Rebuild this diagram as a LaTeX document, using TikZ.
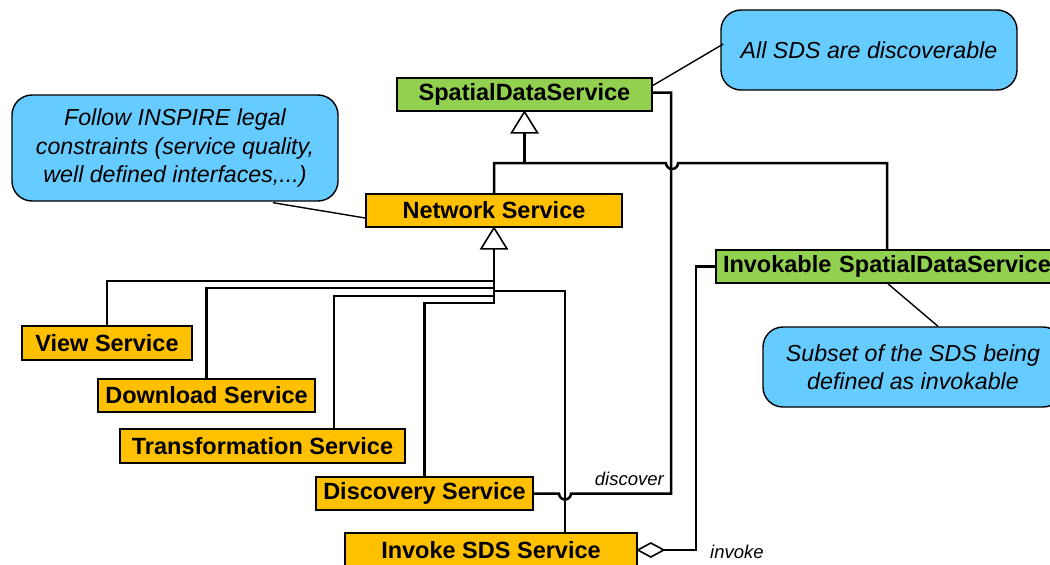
\documentclass[tikz,border=0pt]{standalone}
\usepackage{fontspec}
\setmainfont{Liberation Sans}
\usetikzlibrary{calc}
\definecolor{cblue}{HTML}{66CCFF}
\definecolor{cgreen}{HTML}{92D050}
\definecolor{corange}{HTML}{FFC000}
\begin{document}
\begin{tikzpicture}[x=1pt,y=-1pt,
  cls/.style={draw=black,line width=1.6pt,inner sep=0pt,font=\fontsize{23.5}{27}\selectfont\bfseries},
  grn/.style={cls,fill=cgreen},
  org/.style={cls,fill=corange},
  note/.style={draw=black,line width=1.4pt,fill=cblue,rounded corners=20pt,inner sep=0pt,align=center,font=\fontsize{23.2}{28.5}\selectfont\itshape},
  conn/.style={line width=2.5pt},
  nline/.style={line width=1.4pt},
  tri/.style={line width=1.6pt,fill=white},
  lbl/.style={font=\fontsize{18.5}{22}\selectfont\itshape,inner sep=0pt}
]
\useasboundingbox (0,0) rectangle (1050,565);

% classes
\node[grn,minimum width=255pt,minimum height=33pt] (sds) at (524.5,94.5) {SpatialDataService};
\node[org,minimum width=256pt,minimum height=33pt] (net) at (494,210.5) {Network Service};
\node[org,minimum width=170pt,minimum height=34pt] (view) at (107,343) {View Service};
\node[org,minimum width=217pt,minimum height=33pt] (down) at (206.5,395.5) {Download Service};
\node[org,minimum width=285pt,minimum height=34pt] (transf) at (262.5,446) {Transformation Service};
\node[org,minimum width=217pt,minimum height=33pt] (disc) at (424.5,493.5) {Discovery Service};
\node[org,minimum width=292pt,minimum height=34pt] (inv) at (491,550) {Invoke SDS Service};
\node[grn,minimum width=338pt,minimum height=33pt,text width=338pt,align=left] (invk) at (885,266.5) {\hspace{7pt}Invokable SpatialDataService};

% notes
\node[note,minimum width=296pt,minimum height=80pt] (allc) at (869,50) {All SDS are discoverable};
\node[note,minimum width=326pt,minimum height=106pt] (follow) at (175,148) {Follow INSPIRE legal\\constraints (service quality,\\well defined interfaces,...)};
\node[note,minimum width=300pt,minimum height=80pt] (subset) at (913,367) {Subset of the SDS being\\defined as invokable};

% note links
\draw[nline] ([yshift=9pt]sds.east) -- ([xshift=3pt,yshift=6pt]allc.west);
\draw[nline] ([xshift=98pt,yshift=-1pt]follow.south) -- ([yshift=-7.5pt]net.west);
\draw[nline] ([xshift=3pt]invk.south) -- ([xshift=25pt]subset.north);

% generalization to SpatialDataService
\coordinate (sdsbase) at ($(sds.south)+(0,21)$);
\coordinate (jtop) at (524.5,163);
\draw[conn] (sdsbase) -- (jtop);
\draw[conn] (net.north) |- (jtop) -- (666,163) arc[start angle=180,end angle=0,radius=6] -- (887,163) -- ([xshift=2pt]invk.north);
\draw[tri] (sds.south) -- ++(-13,21) -- ++(26,0) -- cycle;

% generalization to Network Service
\coordinate (tb) at ($(net.south)+(0,21)$);
\draw[conn] (view.north) |- (494,281) -- (tb);
\draw[conn] (down.north) |- (494,288) -- (tb);
\draw[conn] ([xshift=71.5pt]transf.north) |- (494,296) -- (tb);
\draw[conn] (disc.north) |- (494,303) -- (tb);
\draw[conn] ([xshift=74pt]inv.north) |- (494,291);
\draw[tri] (net.south) -- ++(-13,21) -- ++(26,0) -- cycle;

% discover association
\draw[conn] (disc.east) -- (559,493.5) arc[start angle=180,end angle=0,radius=6] -- (671,493.5) |- ([yshift=2pt]sds.east);
\node[lbl,anchor=base east] (ldisc) at (664,485) {discover};

% invoke aggregation
\coordinate (dtip) at ($(inv.east)+(26,0)$);
\draw[conn] (dtip) -- (696,550) |- (invk.west);
\draw[tri] (inv.east) -- ++(13,-7) -- ++(13,7) -- ++(-13,7) -- cycle;
\node[lbl,anchor=base west] (linv) at (710,558) {invoke};
\end{tikzpicture}
\end{document}
